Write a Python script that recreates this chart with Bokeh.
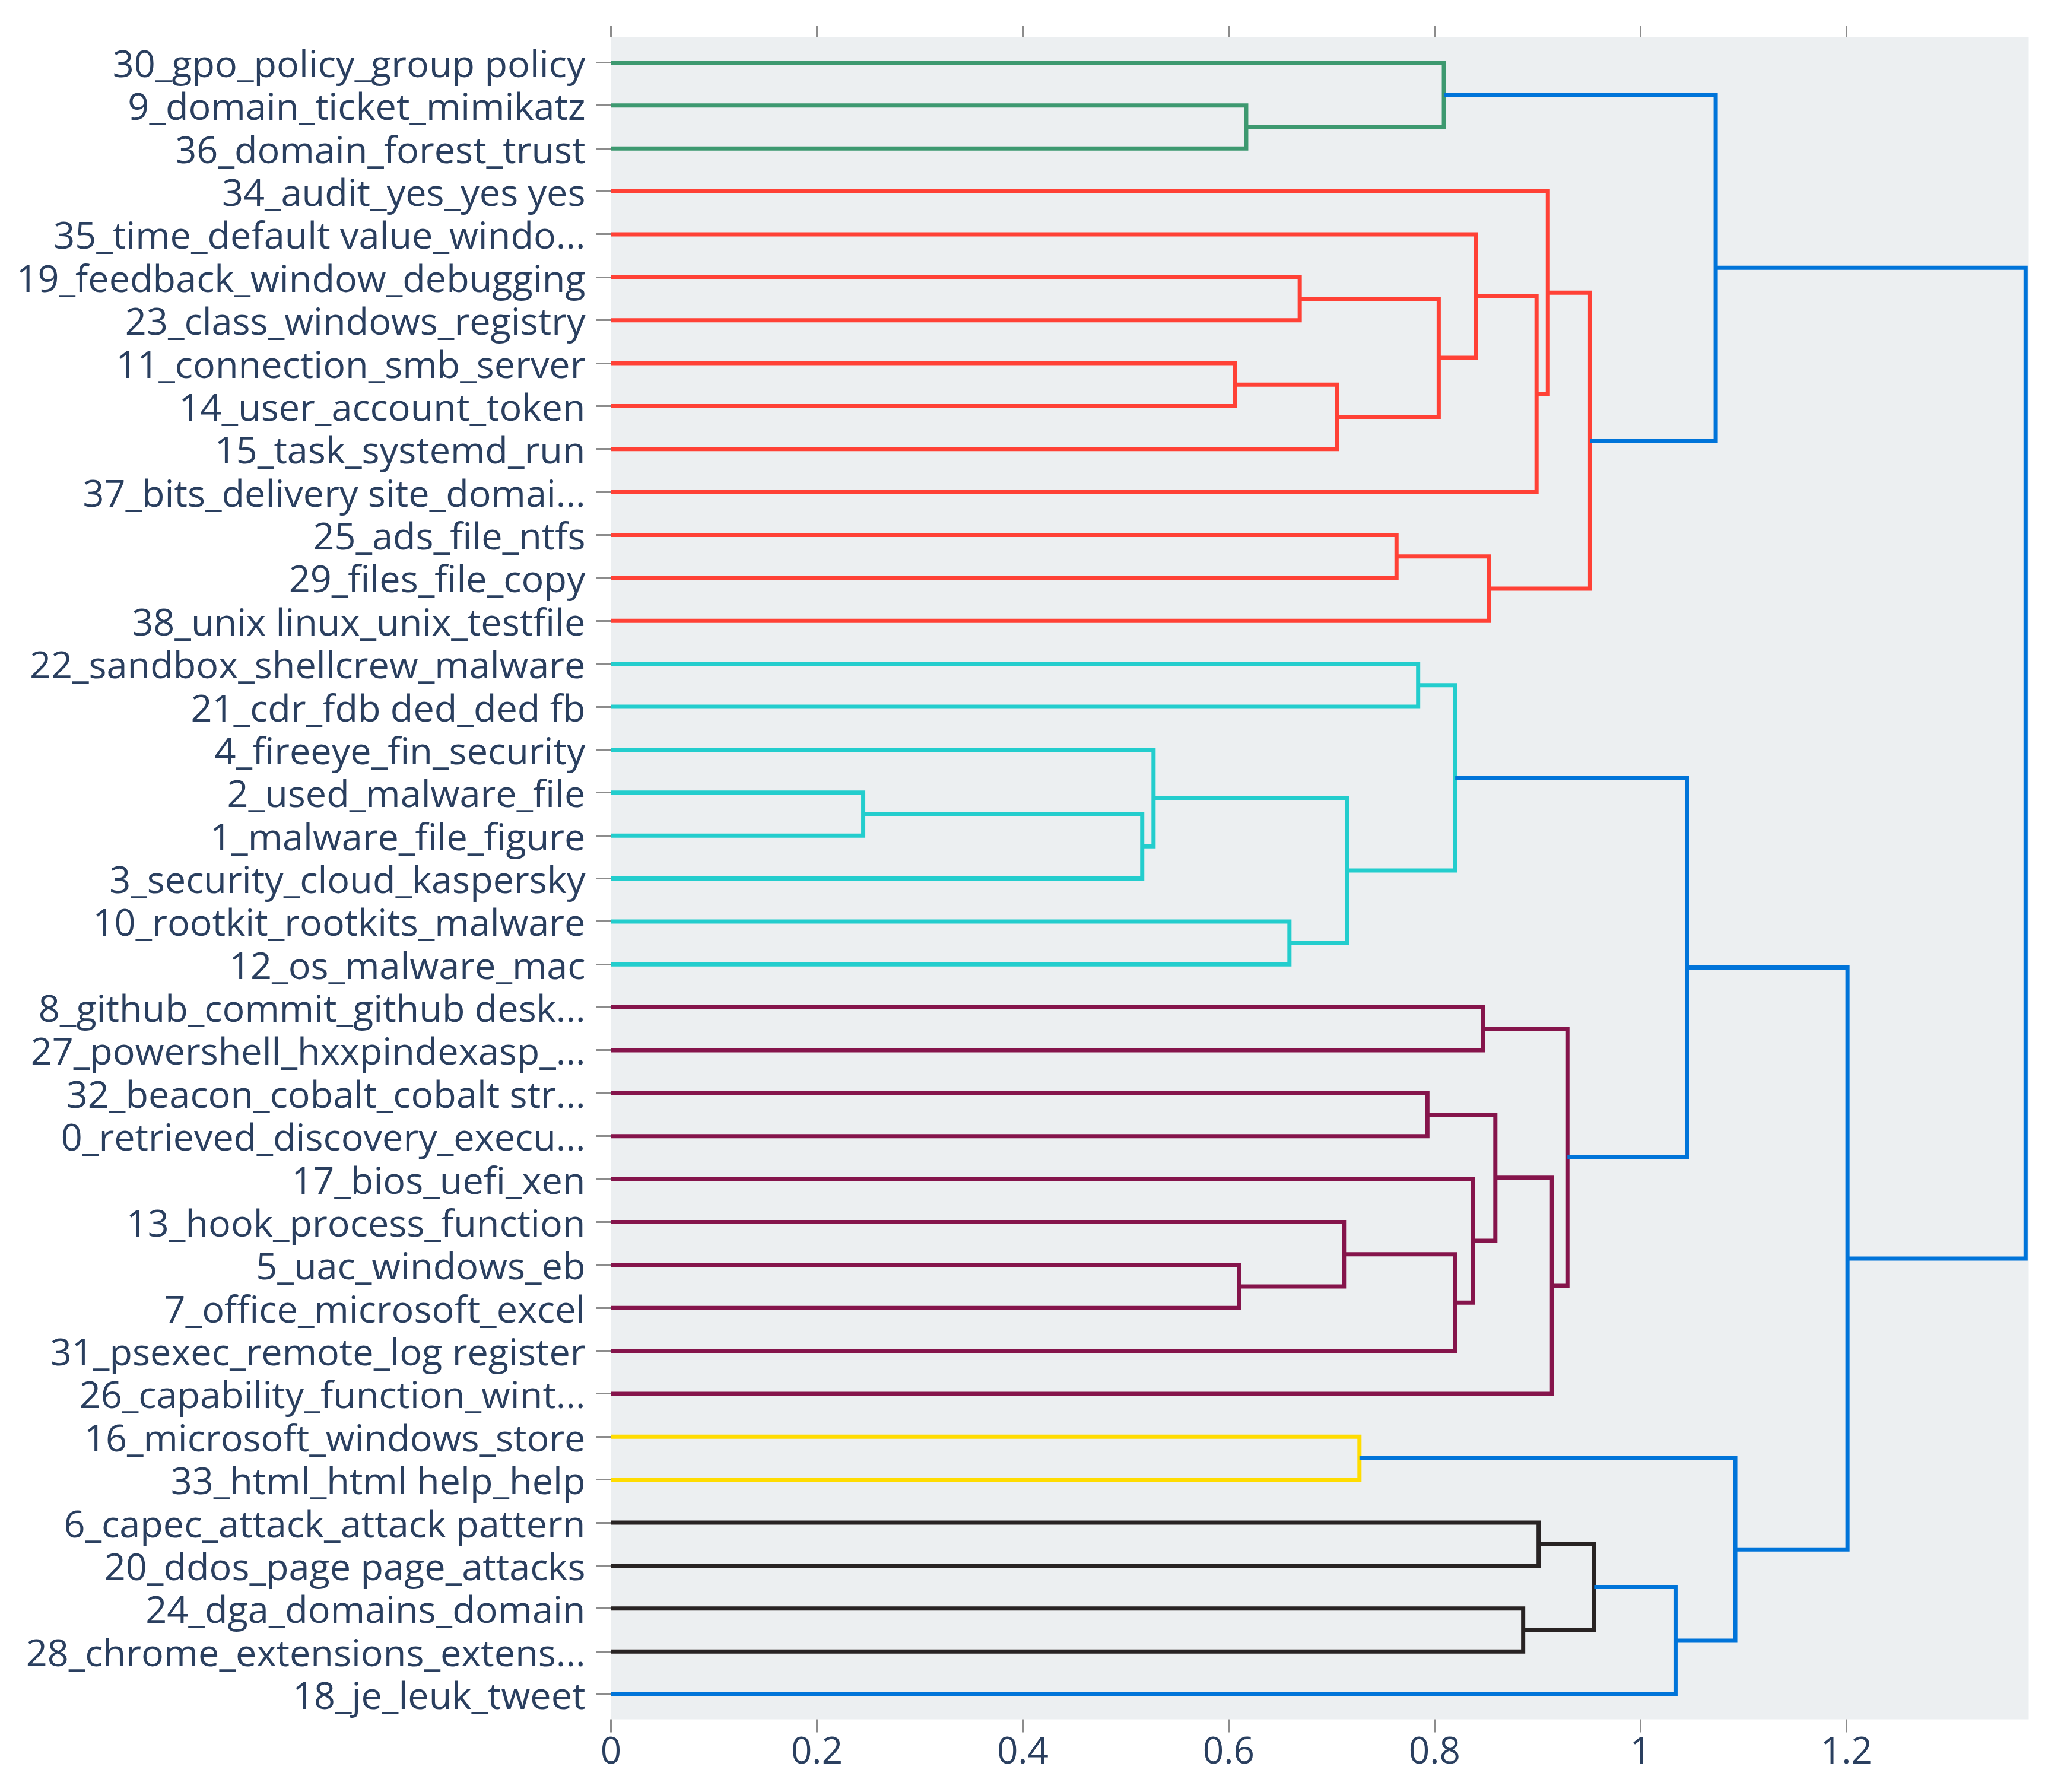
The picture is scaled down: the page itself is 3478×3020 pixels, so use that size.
from bokeh.plotting import figure
from bokeh.models import Range1d, FixedTicker, LinearAxis, NumeralTickFormatter
from bokeh.embed import file_html
from bokeh.resources import INLINE

# Leaf labels, top to bottom
labels = [
    "30_gpo_policy_group policy",
    "9_domain_ticket_mimikatz",
    "36_domain_forest_trust",
    "34_audit_yes_yes yes",
    "35_time_default value_windo...",
    "19_feedback_window_debugging",
    "23_class_windows_registry",
    "11_connection_smb_server",
    "14_user_account_token",
    "15_task_systemd_run",
    "37_bits_delivery site_domai...",
    "25_ads_file_ntfs",
    "29_files_file_copy",
    "38_unix linux_unix_testfile",
    "22_sandbox_shellcrew_malware",
    "21_cdr_fdb ded_ded fb",
    "4_fireeye_fin_security",
    "2_used_malware_file",
    "1_malware_file_figure",
    "3_security_cloud_kaspersky",
    "10_rootkit_rootkits_malware",
    "12_os_malware_mac",
    "8_github_commit_github desk...",
    "27_powershell_hxxpindexasp_...",
    "32_beacon_cobalt_cobalt str...",
    "0_retrieved_discovery_execu...",
    "17_bios_uefi_xen",
    "13_hook_process_function",
    "5_uac_windows_eb",
    "7_office_microsoft_excel",
    "31_psexec_remote_log register",
    "26_capability_function_wint...",
    "16_microsoft_windows_store",
    "33_html_html help_help",
    "6_capec_attack_attack pattern",
    "20_ddos_page page_attacks",
    "24_dga_domains_domain",
    "28_chrome_extensions_extens...",
    "18_je_leuk_tweet",
]

# Merges: node ids 0..38 are leaves (row order), 39+ are merges in order
merge_a = [1, 0, 5, 7, 42, 41, 4, 45, 3, 11, 48, 47, 40,
           14, 17, 53, 16, 20, 55, 52,
           22, 24, 28, 27, 62, 26, 60, 65, 59, 58,
           32, 34, 36, 70, 72, 69, 68, 51]
merge_b = [2, 39, 6, 8, 9, 43, 44, 10, 46, 12, 13, 49, 50,
           15, 18, 19, 54, 21, 56, 57,
           23, 25, 29, 61, 30, 63, 64, 31, 66, 67,
           33, 35, 37, 71, 38, 73, 74, 75]
merge_h = [0.617, 0.809, 0.669, 0.606, 0.705, 0.804, 0.840, 0.899, 0.910, 0.763, 0.853, 0.951, 1.073,
           0.784, 0.245, 0.516, 0.527, 0.659, 0.715, 0.820,
           0.847, 0.793, 0.610, 0.712, 0.820, 0.837, 0.859, 0.914, 0.929, 1.045,
           0.727, 0.901, 0.886, 0.955, 1.034, 1.092, 1.201, 1.374]
merge_c = ["green", "green", "red", "red", "red", "red", "red", "red", "red", "red", "red", "red", "blue",
           "cyan", "cyan", "cyan", "cyan", "cyan", "cyan", "cyan",
           "purple", "purple", "purple", "purple", "purple", "purple", "purple", "purple", "purple", "blue",
           "yellow", "black", "black", "black", "blue", "blue", "blue", "blue"]

palette = {
    "green": "rgb(61,153,112)",
    "red": "rgb(255,65,54)",
    "blue": "rgb(0,116,217)",
    "cyan": "rgb(35,205,205)",
    "purple": "rgb(133,20,75)",
    "yellow": "rgb(255,220,0)",
    "black": "rgb(40,35,35)",
}

x_ticks = [0, 0.2, 0.4, 0.6, 0.8, 1, 1.2]

n = len(labels)
node_y = {i: float(i) for i in range(n)}
node_h = {i: 0.0 for i in range(n)}
xs, ys, cols = [], [], []
for k, (a, b, h, c) in enumerate(zip(merge_a, merge_b, merge_h, merge_c)):
    nid = n + k
    xs.append([node_h[a], h, h, node_h[b]])
    ys.append([node_y[a], node_y[a], node_y[b], node_y[b]])
    cols.append(palette[c])
    node_y[nid] = (node_y[a] + node_y[b]) / 2
    node_h[nid] = h

W, H = 3462, 3011
p = figure(width=W, height=H, output_backend="svg", toolbar_location=None,
           x_range=Range1d(0, 1.377), y_range=Range1d(38.58, -0.594),
           x_axis_location=None, y_axis_location=None,
           min_border_left=1029, min_border_right=44,
           min_border_top=62, min_border_bottom=114)
p.background_fill_color = "#ECEFF1"
p.border_fill_color = "white"
p.outline_line_color = None
p.grid.visible = False

p.multi_line(xs=xs, ys=ys, line_color=cols, line_width=7, line_join="miter")

font = "Open Sans"
tick_col = "#8c8c8c"
text_col = "#2a3f5f"

xb = LinearAxis(ticker=FixedTicker(ticks=x_ticks), formatter=NumeralTickFormatter(format="0.[0]"))
xb.axis_line_color = None
xb.major_tick_line_color = tick_col
xb.major_tick_line_width = 3
xb.major_tick_out = 22
xb.major_tick_in = 0
xb.minor_tick_line_color = None
xb.major_label_standoff = 7
xb.major_label_text_font = font
xb.major_label_text_font_size = "62px"
xb.major_label_text_color = text_col
p.add_layout(xb, "below")

xt = LinearAxis(ticker=FixedTicker(ticks=x_ticks))
xt.major_label_overrides = {t: "" for t in x_ticks}
xt.axis_line_color = None
xt.major_tick_line_color = tick_col
xt.major_tick_line_width = 3
xt.major_tick_out = 19
xt.major_tick_in = 0
xt.minor_tick_line_color = None
xt.major_label_text_font_size = "1px"
xt.major_label_standoff = 0
p.add_layout(xt, "above")

yl = LinearAxis(ticker=FixedTicker(ticks=list(range(n))))
yl.major_label_overrides = {i: lab for i, lab in enumerate(labels)}
yl.axis_line_color = None
yl.major_tick_line_color = tick_col
yl.major_tick_line_width = 3
yl.major_tick_out = 25
yl.major_tick_in = 0
yl.minor_tick_line_color = None
yl.major_label_standoff = 18
yl.major_label_text_font = font
yl.major_label_text_font_size = "63px"
yl.major_label_text_color = text_col
p.add_layout(yl, "left")

open("out.html", "w").write(file_html(p, INLINE))
